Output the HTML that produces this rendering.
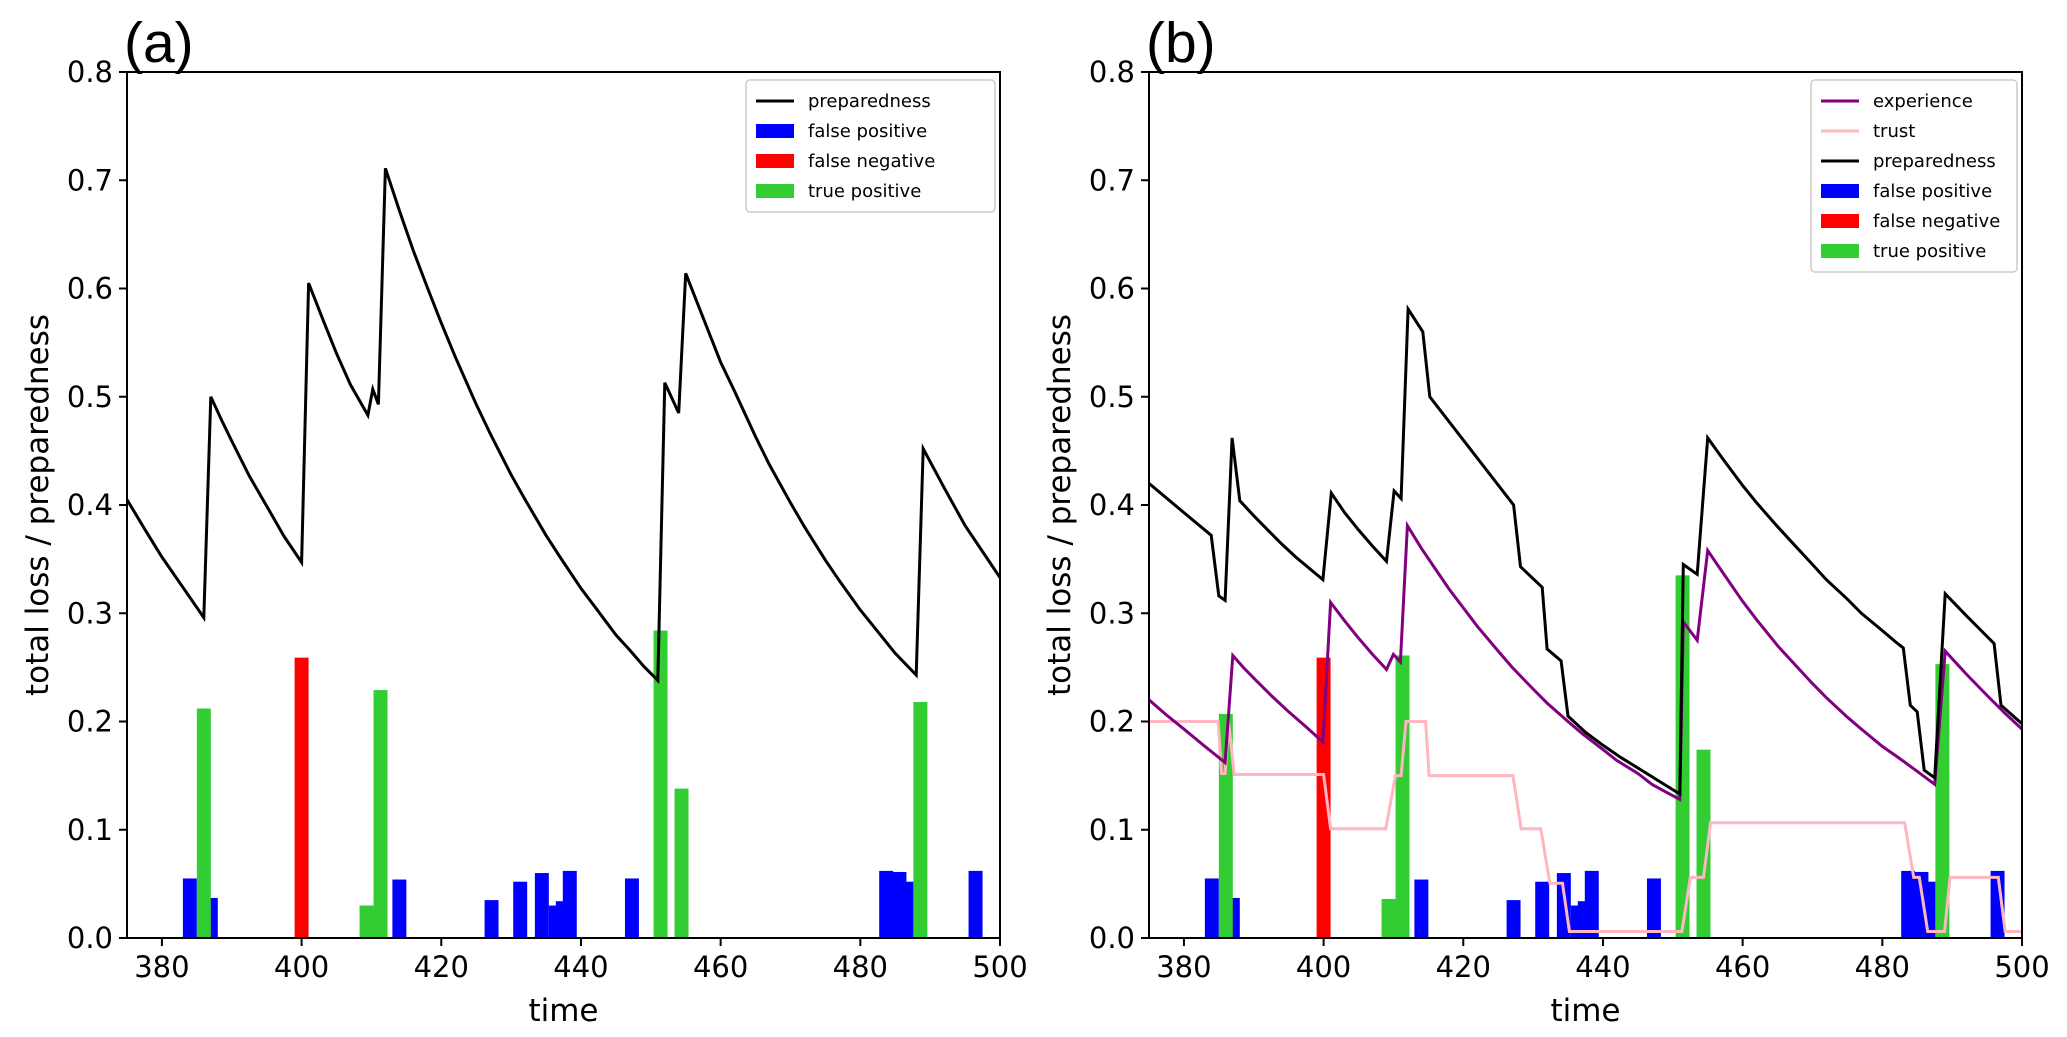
<!DOCTYPE html>
<html><head><meta charset="utf-8"><style>
html,body{margin:0;padding:0;background:#fff;}
svg{display:block;font-family:"DejaVu Sans","Liberation Sans",sans-serif;}
</style></head><body>
<svg id="fig" width="2067" height="1037" viewBox="0 0 2067 1037" xmlns="http://www.w3.org/2000/svg"></svg>
<script>
// ---- data ----
const xTicks = [380, 400, 420, 440, 460, 480, 500];
const yTicks = [0.0, 0.1, 0.2, 0.3, 0.4, 0.5, 0.6, 0.7, 0.8];
const yTickLabels = ["0.0","0.1","0.2","0.3","0.4","0.5","0.6","0.7","0.8"];

const prepA_t = [375,377.5,380,383,386,387,388.5,390,392.5,395,397.5,400,401,403,405,407,409.5,410.2,411,412,414,416,418,420,422,425,427,430,432,435,437,440,442,445,447,449,451,452,454,455,457,460,462,465,467,470,472,475,477,480,482,485,488,489,492,495,497.5,500];
const prepA_v = [0.405,0.378,0.352,0.324,0.296,0.50,0.479,0.459,0.427,0.399,0.371,0.347,0.605,0.572,0.54,0.511,0.483,0.507,0.493,0.711,0.672,0.635,0.601,0.568,0.537,0.493,0.466,0.428,0.405,0.372,0.352,0.323,0.306,0.280,0.266,0.251,0.238,0.513,0.485,0.614,0.581,0.532,0.505,0.463,0.437,0.402,0.380,0.349,0.330,0.303,0.287,0.263,0.243,0.452,0.416,0.381,0.357,0.333];

const prepB_t = [375,380,383.9,385,385.9,386.9,388,390,392,394,396,399.9,401.1,403,405,407,409,410.1,411.1,412.1,414.2,415.2,427.2,428.2,431.3,432,434,435,437.5,440,442.5,445,448,451,451.5,453.5,455,457,460,462,465,467,470,472,475,477,480,482,483,484,485,486,487.5,489,492,494,496,497,500];
const prepB_v = [0.420,0.393,0.372,0.316,0.312,0.462,0.404,0.390,0.377,0.364,0.352,0.331,0.411,0.393,0.377,0.362,0.348,0.413,0.406,0.581,0.560,0.500,0.400,0.343,0.324,0.267,0.256,0.205,0.190,0.178,0.167,0.157,0.145,0.133,0.345,0.336,0.462,0.444,0.418,0.402,0.380,0.366,0.345,0.331,0.313,0.300,0.284,0.273,0.268,0.215,0.209,0.155,0.148,0.318,0.298,0.285,0.272,0.215,0.198];

const expB_t = [375,377.5,380,383,385.9,387,388.5,390,392.5,395,397.5,399.9,401,403,405,407,409,410,411,412,414,416,418,420,422,425,427,430,432,435,437,440,442,445,447,449,451,451.5,453.5,455,457,460,462,465,467,470,472,475,477,480,482,485,487.5,489,492,495,497.5,500];
const expB_v = [0.220,0.206,0.193,0.177,0.162,0.261,0.250,0.240,0.224,0.209,0.195,0.181,0.310,0.293,0.277,0.262,0.248,0.262,0.255,0.381,0.360,0.341,0.322,0.305,0.288,0.265,0.250,0.230,0.217,0.200,0.189,0.174,0.164,0.152,0.142,0.135,0.128,0.292,0.275,0.358,0.339,0.311,0.294,0.270,0.256,0.235,0.222,0.204,0.193,0.177,0.168,0.154,0.142,0.265,0.244,0.224,0.208,0.193];

const trustB_t = [375,384.9,385.4,385.9,386.4,387.2,400.0,401.0,408.9,410.3,411.1,411.8,414.6,415.1,427.1,428.3,431.1,432.4,434.2,435.2,451.3,452.5,454.4,455.4,483.2,484.5,485.3,486.5,488.9,489.7,496.6,497.6,500];
const trustB_v = [0.2,0.2,0.152,0.152,0.2,0.151,0.151,0.101,0.101,0.15,0.15,0.2,0.2,0.15,0.15,0.101,0.101,0.0505,0.0505,0.006,0.006,0.056,0.056,0.1065,0.1065,0.056,0.056,0.006,0.006,0.056,0.056,0.006,0.006];

const fpTimes = [384,387,414,427.2,431.3,434.4,436.4,437.4,438.4,447.3,483.7,485.6,486.6,496.5];
const fpA = [0.055,0.037,0.054,0.035,0.052,0.060,0.030,0.034,0.062,0.055,0.062,0.061,0.052,0.062];
const fpB = [0.055,0.037,0.054,0.035,0.052,0.060,0.030,0.034,0.062,0.055,0.062,0.061,0.052,0.062];
const fnTimes = [400];
const fnA = [0.259];
const fnB = [0.259];
const tpTimes = [386,409.3,411.3,451.4,454.4,488.6];
const tpA = [0.212,0.030,0.229,0.284,0.138,0.218];
const tpB = [0.207,0.036,0.261,0.335,0.174,0.253];
const barWidth = 2;

const NS = "http://www.w3.org/2000/svg";
const svg = document.getElementById('fig');
function mk(tag, attrs, parent){
  const e = document.createElementNS(NS, tag);
  for (const k in attrs) e.setAttribute(k, attrs[k]);
  (parent||svg).appendChild(e);
  return e;
}

function panel(cfg){
  const L = cfg.left, R = cfg.left + 873, T = 72, B = 938;
  const xs = t => L + (t - 375) / 125 * (R - L);
  const ys = v => B - v / 0.8 * (B - T);
  const g = mk('g', {});
  
  

  const clip = mk('clipPath', {id: 'clip-' + cfg.name}, g);
  mk('rect', {x: L, y: T, width: R - L, height: B - T}, clip);
  const plot = mk('g', {'clip-path': 'url(#clip-' + cfg.name + ')'}, g);

  function bars(times, vals, color, nm){
    for (let i = 0; i < times.length; i++){
      const r = mk('rect', {x: xs(times[i] - barWidth/2), y: ys(vals[i]), width: xs(barWidth) - xs(0), height: ys(0) - ys(vals[i]), fill: color}, plot);
      
      
    }
  }
  bars(fpTimes, cfg.fp, '#0000ff', 'false-positive');
  bars(fnTimes, cfg.fn, '#ff0000', 'false-negative');
  bars(tpTimes, cfg.tp, '#32cd32', 'true-positive');

  function line(ts, vs, color, nm){
    const d = ts.map((t, i) => (i ? 'L' : 'M') + xs(t).toFixed(1) + ',' + ys(vs[i]).toFixed(1)).join('');
    const p = mk('path', {d: d, fill: 'none', stroke: color, 'stroke-width': 3, 'stroke-linejoin': 'miter'}, plot);
    
    
  }
  (cfg.lines || []).forEach(l => line(l.t, l.v, l.c, l.n));

  const fr = mk('rect', {x: L, y: T, width: R - L, height: B - T, fill: 'none', stroke: '#000', 'stroke-width': 2}, g);
  
  

  xTicks.forEach(t => {
    mk('line', {x1: xs(t), x2: xs(t), y1: B, y2: B + 8, stroke: '#000', 'stroke-width': 2}, g);
    const tx = mk('text', {x: xs(t), y: 977, 'font-size': 29, 'text-anchor': 'middle'}, g);
    tx.textContent = t;
    
    
  });
  yTicks.forEach((v, i) => {
    mk('line', {x1: L - 8, x2: L, y1: ys(v), y2: ys(v), stroke: '#000', 'stroke-width': 2}, g);
    const tx = mk('text', {x: L - 14, y: ys(v) + 10, 'font-size': 29, 'text-anchor': 'end'}, g);
    tx.textContent = yTickLabels[i];
    
    
  });
  const xl = mk('text', {x: (L + R) / 2, y: 1021, 'font-size': 31, 'text-anchor': 'middle'}, g);
  xl.textContent = 'time';
  
  
  const yl = mk('text', {x: 0, y: 0, 'font-size': 31, 'text-anchor': 'middle', transform: 'translate(' + (L - 79) + ',' + ((T + B) / 2) + ') rotate(-90)'}, g);
  yl.textContent = 'total loss / preparedness';
  
  
  const pl = mk('text', {x: L - 3, y: 62, 'font-size': 57, 'font-family': 'Liberation Sans, sans-serif'}, g);
  pl.textContent = cfg.label;
  
  

  const lx = cfg.legX, ly = 80, lw = R - 5 - lx, lh = cfg.legend.length * 30 + 12;
  const lg = mk('g', {}, g);
  
  
  mk('rect', {x: lx, y: ly, width: lw, height: lh, fill: '#fff', stroke: '#ccc', 'stroke-width': 1.5, rx: 4}, lg);
  cfg.legend.forEach((e, i) => {
    const cy = ly + 21 + i * 30;
    if (e.type === 'line') mk('line', {x1: lx + 10, x2: lx + 48, y1: cy, y2: cy, stroke: e.c, 'stroke-width': 3}, lg);
    else mk('rect', {x: lx + 10, y: cy - 7, width: 38, height: 14, fill: e.c}, lg);
    const t = mk('text', {x: lx + 62, y: cy + 6, 'font-size': 18}, lg);
    t.textContent = e.n;
    
    
  });
}

panel({name: 'panel-a', left: 127, label: '(a)', fp: fpA, fn: fnA, tp: tpA, legX: 746,
  lines: [{t: prepA_t, v: prepA_v, c: '#000', n: 'preparedness-line'}],
  legend: [{type:'line', c:'#000', n:'preparedness'}, {type:'bar', c:'#0000ff', n:'false positive'}, {type:'bar', c:'#ff0000', n:'false negative'}, {type:'bar', c:'#32cd32', n:'true positive'}]});

panel({name: 'panel-b', left: 1149, label: '(b)', fp: fpB, fn: fnB, tp: tpB, legX: 1811,
  lines: [{t: trustB_t, v: trustB_v, c: '#ffb6c1', n: 'trust-line'}, {t: expB_t, v: expB_v, c: '#800080', n: 'experience-line'}, {t: prepB_t, v: prepB_v, c: '#000', n: 'preparedness-line'}],
  legend: [{type:'line', c:'#800080', n:'experience'}, {type:'line', c:'#ffb6c1', n:'trust'}, {type:'line', c:'#000', n:'preparedness'}, {type:'bar', c:'#0000ff', n:'false positive'}, {type:'bar', c:'#ff0000', n:'false negative'}, {type:'bar', c:'#32cd32', n:'true positive'}]});
</script>
</body></html>
